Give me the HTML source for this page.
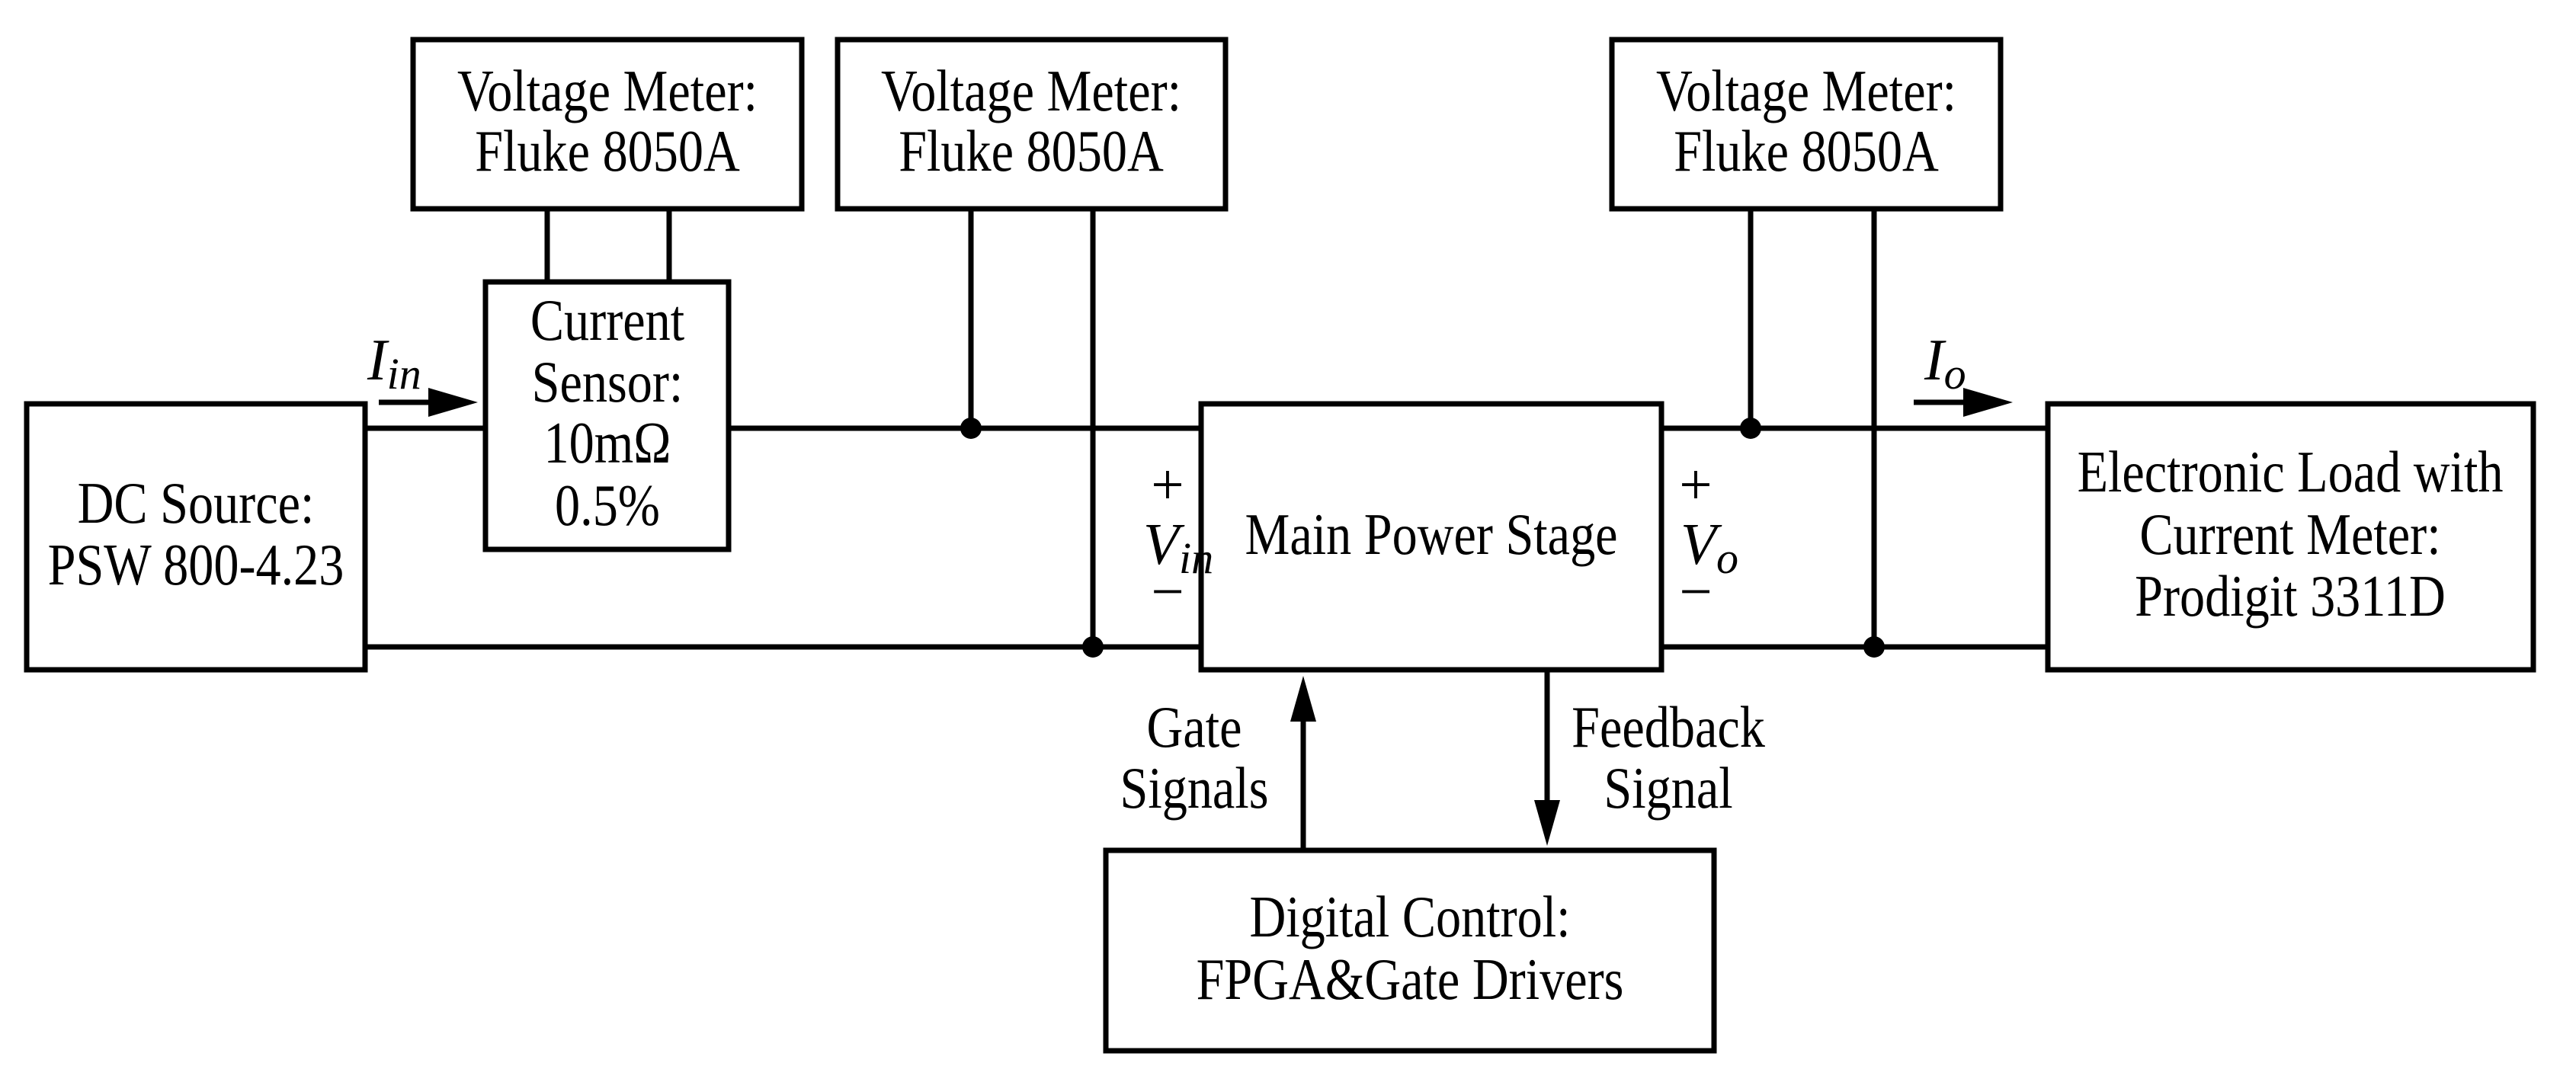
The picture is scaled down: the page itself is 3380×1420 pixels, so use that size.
<!DOCTYPE html>
<html><head><meta charset="utf-8"><style>html,body{margin:0;padding:0;background:#fff}svg{display:block}</style></head>
<body>
<svg width="3380" height="1420" viewBox="0 0 3380 1420" xmlns="http://www.w3.org/2000/svg">
<g fill="none" stroke="#000" stroke-width="7">
<rect x="35" y="530" width="444" height="349"/>
<rect x="637" y="370" width="319" height="351"/>
<rect x="542" y="52" width="510" height="222"/>
<rect x="1099" y="52" width="509" height="222"/>
<rect x="2115" y="52" width="510" height="222"/>
<rect x="1576" y="530" width="604" height="349"/>
<rect x="2687" y="530" width="637" height="349"/>
<rect x="1451" y="1116" width="798" height="263"/>
<path d="M479 562H637M956 562H1576M479 849H1576M718 274V370M878 274V370M1274 274V562M1434 274V849M2180 562H2687M2180 849H2687M2297 274V562M2459 274V849M497 528H575M2511 528H2590M1710 1116V940M2030 879V1055"/>
</g>
<g fill="#000">
<circle cx="1274" cy="562" r="14"/><circle cx="1434" cy="849" r="14"/>
<circle cx="2297" cy="562" r="14"/><circle cx="2459" cy="849" r="14"/>
<polygon points="562,509 627,528 562,547"/>
<polygon points="2576,509 2641,528 2576,547"/>
<polygon points="1693,947 1710,887 1727,947"/>
<polygon points="2013,1050 2030,1110 2047,1050"/>
</g>
<g font-family="Liberation Serif, serif" font-size="77" fill="#000" text-anchor="middle">
<g transform="translate(797,0) scale(0.86,1)"><text x="0" y="145">Voltage Meter:</text><text x="0" y="224">Fluke 8050A</text></g>
<g transform="translate(1353,0) scale(0.86,1)"><text x="0" y="145">Voltage Meter:</text><text x="0" y="224">Fluke 8050A</text></g>
<g transform="translate(2370,0) scale(0.86,1)"><text x="0" y="145">Voltage Meter:</text><text x="0" y="224">Fluke 8050A</text></g>
<g transform="translate(797,0) scale(0.86,1)"><text x="0" y="446">Current</text><text x="0" y="527">Sensor:</text><text x="0" y="607">10mΩ</text><text x="0" y="689">0.5%</text></g>
<g transform="translate(257,0) scale(0.86,1)"><text x="0" y="686">DC Source:</text><text x="0" y="767">PSW 800-4.23</text></g>
<g transform="translate(1878,0) scale(0.86,1)"><text x="0" y="727">Main Power Stage</text></g>
<g transform="translate(3005,0) scale(0.86,1)"><text x="0" y="645">Electronic Load with</text><text x="0" y="727">Current Meter:</text><text x="0" y="808">Prodigit 3311D</text></g>
<g transform="translate(1850,0) scale(0.86,1)"><text x="0" y="1229">Digital Control:</text><text x="0" y="1311">FPGA&amp;Gate Drivers</text></g>
<g transform="translate(1567,0) scale(0.86,1)"><text x="0" y="980">Gate</text><text x="0" y="1060">Signals</text></g>
<g transform="translate(2189,0) scale(0.86,1)"><text x="0" y="980">Feedback</text><text x="0" y="1060">Signal</text></g>
<text x="1532" y="662">+</text><text x="1532" y="802">−</text>
<text x="2225" y="662">+</text><text x="2225" y="802">−</text>
<g font-style="italic" text-anchor="start">
<text x="1500" y="740">V<tspan font-size="58" dy="12">in</tspan></text>
<text x="2205" y="740">V<tspan font-size="58" dy="12">o</tspan></text>
<text x="482" y="498">I<tspan font-size="58" dy="12">in</tspan></text>
<text x="2525" y="498">I<tspan font-size="58" dy="12">o</tspan></text>
</g>
</g>
</svg>
</body></html>
